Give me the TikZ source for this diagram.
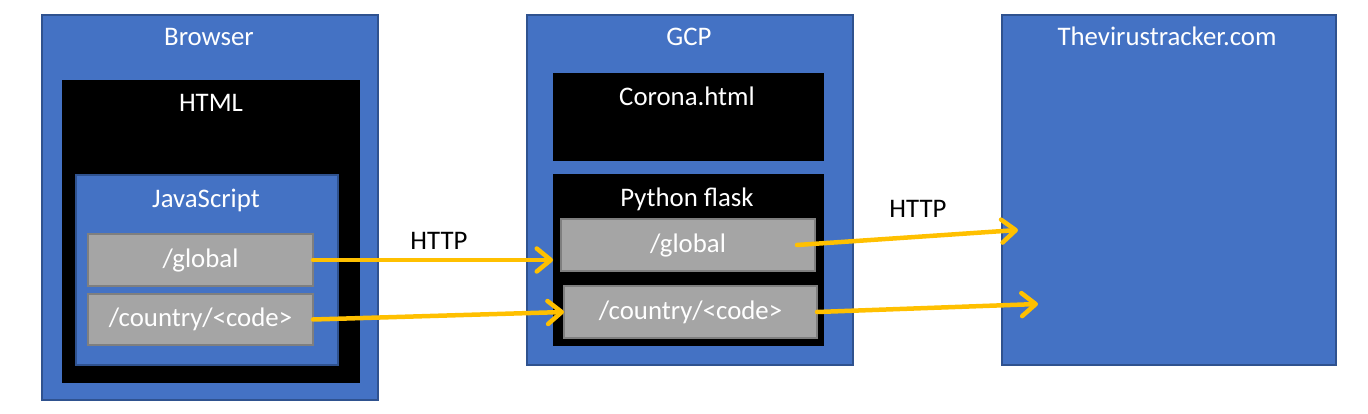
\documentclass[tikz,border=0pt]{standalone}
\usepackage{fontspec}
\setmainfont{Carlito}
\usepackage{tikz}
\usetikzlibrary{arrows.meta}

\definecolor{boxblue}{HTML}{4472C4}
\definecolor{boxedge}{HTML}{2F528F}
\definecolor{routegray}{HTML}{A5A5A5}
\definecolor{routeedge}{HTML}{7F7F7F}
\definecolor{callorange}{HTML}{FFC000}

\begin{document}
\begin{tikzpicture}[x=1pt, y=-1pt]
		\tikzset{outer/.style={shape = rectangle, draw = boxedge, fill = boxblue, line width = 2pt, inner sep = 0pt, outer sep = 0pt}}
		\tikzset{layer/.style={shape = rectangle, fill = black, inner sep = 0pt, outer sep = 0pt}}
		\tikzset{route/.style={shape = rectangle, draw = routeedge, fill = routegray, line width = 2pt, inner sep = 0pt, outer sep = 0pt, text = white, font = \fontsize{26.8}{30}\selectfont}}
		\tikzset{title/.style={anchor = base, text = white, inner sep = 0pt, font = \fontsize{26.8}{30}\selectfont}}
		\tikzset{call/.style={draw = callorange, line width = 4.5pt, line cap = round, -{Straight Barb[length = 14pt, width = 23pt, round]}}}
		\tikzset{proto/.style={anchor = base, inner sep = 0pt, font = \fontsize{26.8}{30}\selectfont}}
		\useasboundingbox (0, 0) rectangle (1368, 414);
		%browser side
		\node[outer, minimum width = 336, minimum height = 385] (browser) at (210, 207.5) {};
		\node[title] (browsert) at (209, 46) {Browser};
		\node[layer, minimum width = 298, minimum height = 303] (html) at (211, 231.5) {};
		\node[title] (htmlt) at (211, 112) {HTML};
		\node[outer, minimum width = 262, minimum height = 190] (js) at (207, 270) {};
		\node[title] (jst) at (206, 208) {JavaScript};
		\node[route, minimum width = 225, minimum height = 52] (jsglobal) at (200.5, 260) {/global};
		\node[route, minimum width = 225, minimum height = 51] (jscountry) at (200.5, 319.5) {/country/<code>};
		%gcp side
		\node[outer, minimum width = 326, minimum height = 350] (gcp) at (690, 190) {};
		\node[title] (gcpt) at (689, 46) {GCP};
		\node[layer, minimum width = 271, minimum height = 88] (corona) at (688.5, 117) {};
		\node[title] (coronat) at (687, 106) {Corona.html};
		\node[layer, minimum width = 271, minimum height = 172] (flask) at (688.5, 260) {};
		\node[title] (flaskt) at (687, 207) {Python flask};
		\node[route, minimum width = 254, minimum height = 52] (pyglobal) at (688, 245) {/global};
		\node[route, minimum width = 253, minimum height = 52] (pycountry) at (690.5, 312) {/country/<code>};
		%tracker
		\node[outer, minimum width = 334, minimum height = 350] (tracker) at (1169, 190) {};
		\node[title] (trackert) at (1167, 46) {Thevirustracker.com};
		%labels
		\node[proto] (http1) at (439, 250) {HTTP};
		\node[proto] (http2) at (918, 218) {HTTP};
		\coordinate (hit1) at (1018, 230);
		\coordinate (hit2) at (1038, 304);
		%arrows
		\draw[call] (jsglobal.east) -- (flask.west);
		\draw[call] (jscountry.east) -- (pycountry.west);
		\draw[call] ([xshift = -18pt]pyglobal.east) -- (hit1);
		\draw[call] (pycountry.east) -- (hit2);
\end{tikzpicture}
\end{document}
